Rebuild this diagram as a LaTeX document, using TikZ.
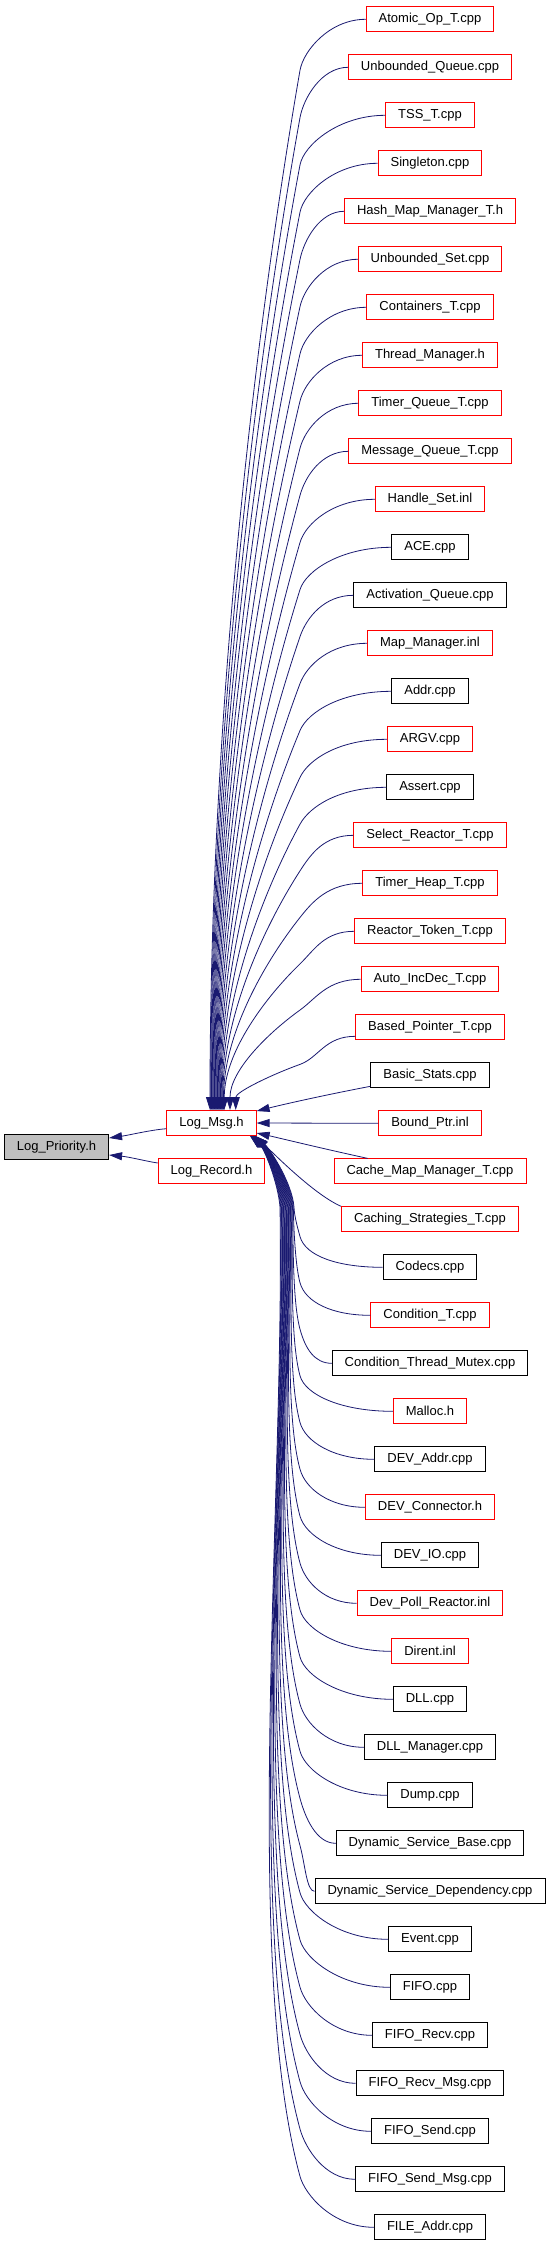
\documentclass[tikz,border=0pt]{standalone}
\usepackage{fontspec}
\newfontfamily\dfont{Liberation Sans}
\usetikzlibrary{arrows.meta,calc}
\definecolor{edgeblue}{HTML}{191970}
\definecolor{rootgray}{HTML}{BFBFBF}
\tikzset{
  file/.style={draw, line width=0.9pt, inner xsep=12.5pt, inner ysep=0pt,
    minimum height=25pt, font=\dfont\fontsize{13}{15}\selectfont, fill=white},
  redfile/.style={file, draw=red},
  blackfile/.style={file, draw=black},
  rootfile/.style={file, draw=black, fill=rootgray},
  dep/.style={draw=edgeblue, line width=0.8pt, arrows={Triangle[length=13pt,width=8pt]-}},
}
\begin{document}
\begin{tikzpicture}[x=1pt,y=1pt]
\useasboundingbox (0,0) rectangle (552,-2243);
\node[rootfile] (prio) at (56.5,-1147) {Log\_Priority.h};
\node[redfile] (msg) at (211.5,-1123) {Log\_Msg.h};
\node[redfile] (rec) at (211.5,-1171) {Log\_Record.h};
\foreach \i/\lab/\st in {
 0/Atomic\_Op\_T.cpp/redfile,
 1/Unbounded\_Queue.cpp/redfile,
 2/TSS\_T.cpp/redfile,
 3/Singleton.cpp/redfile,
 4/Hash\_Map\_Manager\_T.h/redfile,
 5/Unbounded\_Set.cpp/redfile,
 6/Containers\_T.cpp/redfile,
 7/Thread\_Manager.h/redfile,
 8/Timer\_Queue\_T.cpp/redfile,
 9/Message\_Queue\_T.cpp/redfile,
 10/Handle\_Set.inl/redfile,
 11/ACE.cpp/blackfile,
 12/Activation\_Queue.cpp/blackfile,
 13/Map\_Manager.inl/redfile,
 14/Addr.cpp/blackfile,
 15/ARGV.cpp/redfile,
 16/Assert.cpp/blackfile,
 17/Select\_Reactor\_T.cpp/redfile,
 18/Timer\_Heap\_T.cpp/redfile,
 19/Reactor\_Token\_T.cpp/redfile,
 20/Auto\_IncDec\_T.cpp/redfile,
 21/Based\_Pointer\_T.cpp/redfile,
 22/Basic\_Stats.cpp/blackfile,
 23/Bound\_Ptr.inl/redfile,
 24/Cache\_Map\_Manager\_T.cpp/redfile,
 25/Caching\_Strategies\_T.cpp/redfile,
 26/Codecs.cpp/blackfile,
 27/Condition\_T.cpp/redfile,
 28/Condition\_Thread\_Mutex.cpp/blackfile,
 29/Malloc.h/redfile,
 30/DEV\_Addr.cpp/blackfile,
 31/DEV\_Connector.h/redfile,
 32/DEV\_IO.cpp/blackfile,
 33/Dev\_Poll\_Reactor.inl/redfile,
 34/Dirent.inl/redfile,
 35/DLL.cpp/blackfile,
 36/DLL\_Manager.cpp/blackfile,
 37/Dump.cpp/blackfile,
 38/Dynamic\_Service\_Base.cpp/blackfile,
 39/Dynamic\_Service\_Dependency.cpp/blackfile,
 40/Event.cpp/blackfile,
 41/FIFO.cpp/blackfile,
 42/FIFO\_Recv.cpp/blackfile,
 43/FIFO\_Recv\_Msg.cpp/blackfile,
 44/FIFO\_Send.cpp/blackfile,
 45/FIFO\_Send\_Msg.cpp/blackfile,
 46/FILE\_Addr.cpp/blackfile}
{
  \node[\st] (n\i) at (430,{-19.3-48*\i}) {\lab};
}
% upper edges
\foreach \i in {0,...,21} {
  \pgfmathsetmacro\myoff{ifthenelse(\i==21,9,0)}
  \pgfmathsetmacro\mySy{19.3+48*\i+\myoff}
  \pgfmathsetmacro\myH{1110.5-\mySy}
  \pgfmathsetmacro\myd{20+31*sqrt(\myH/1091)}
  \pgfmathsetmacro\myPy{\mySy+\myd}
  \pgfmathsetmacro\myEx{210+0.75*\i+ifthenelse(\i>=20,5*(\i-19),0)}
  \pgfmathsetmacro\myQy{\myPy+0.5*(1110.5-\myPy)}
  \pgfmathsetmacro\myCcy{1110.5-0.4*(1110.5-\myPy)}
  \coordinate (s\i) at ($(n\i.west)+(0,-\myoff)$);
  \coordinate (p\i) at (300,-\myPy);
  \coordinate (q\i) at (\myEx,-\myQy);
  \coordinate (e\i) at ($(msg.north)+(\myEx-211.5,0)$);
  \draw[dep] (e\i) .. controls (\myEx,-\myCcy) and ($(p\i)!0.45!(q\i)$) .. (p\i)
    .. controls ($(p\i)!-20pt!(q\i)$) and ($(s\i)!0.55!(300,-\mySy)$) .. (s\i);
}
% middle edges
\draw[dep] ($(msg.north east)+(0,-1)$) .. controls (285,-1104) and (325,-1095) .. ($(n22.west)+(0,-11)$);
\draw[dep] (msg.east) -- (n23.west);
\draw[dep] ($(msg.east)+(0,-10)$) .. controls (275,-1137) and (320,-1148) .. ($(n24.north west)+(34,0)$);
\draw[dep] ($(msg.south east)+(-1,0)$) .. controls (275,-1155) and (315,-1195) .. (n25.north west);
% lower edges
\foreach \i in {26,...,46} {
  \pgfmathsetmacro\myYi{19.3+48*\i}
  \pgfmathsetmacro\myEx{255-(\i-26)*0.25}
  \pgfmathsetmacro\myHl{\myYi-1136}
  \pgfmathsetmacro\myd{20+31*sqrt(\myHl/1091)}
  \pgfmathsetmacro\myPy{\myYi-\myd}
  \pgfmathsetmacro\myWx{294-(\i-26)*0.7}
  \pgfmathsetmacro\myL{\myPy-1207}
  \pgfmathsetmacro\myCwx{\myWx+0.005*\myL}
  \pgfmathsetmacro\myCwy{1207+0.3*\myL}
  \pgfmathsetmacro\myCbx{300-0.06*\myL}
  \pgfmathsetmacro\myCby{\myPy-0.22*\myL}
  \coordinate (e\i) at ($(msg.south)+(\myEx-211.5,0)$);
  \coordinate (w\i) at (\myWx,-1207);
  \coordinate (p\i) at (300,-\myPy);
  \coordinate (b\i) at (\myCbx,-\myCby);
  \draw[dep] (e\i) .. controls ($(e\i)+(14,-12)$) and ($(w\i)+(-2,25)$) .. (w\i)
    .. controls (\myCwx,-\myCwy) and (b\i) .. (p\i)
    .. controls ($(p\i)!-20pt!(b\i)$) and ($(n\i.west)!0.55!(300,-\myYi)$) .. (n\i.west);
}
% edges into Log_Priority.h
\draw[dep] ($(prio.east)+(0,9)$) .. controls (130,-1135) and (150,-1130) .. ($(msg.west)+(0,-5.7)$);
\draw[dep] ($(prio.east)+(0,-8)$) .. controls (130,-1157) and (145,-1161) .. ($(rec.west)+(0,8)$);
\end{tikzpicture}
\end{document}
